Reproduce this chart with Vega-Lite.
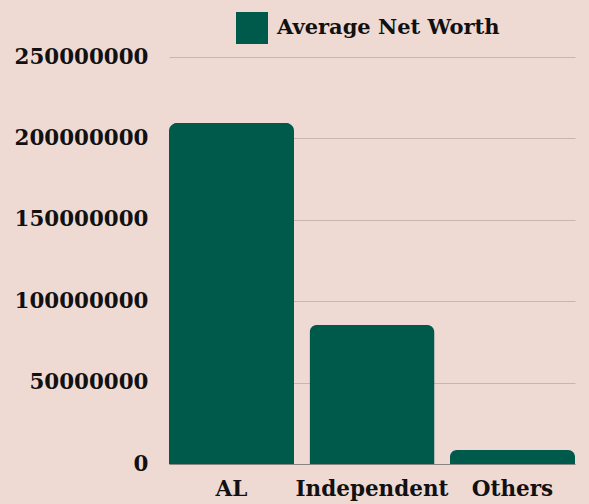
{
  "$schema": "https://vega.github.io/schema/vega-lite/v6.json",
  "width": 406,
  "height": 407,
  "autosize": "none",
  "padding": {"left": 169, "top": 57, "right": 14, "bottom": 40},
  "background": "#EFDAD3",
  "data": {"values": [
    {"party": "AL", "series": "Average Net Worth", "value": 209500000},
    {"party": "Independent", "series": "Average Net Worth", "value": 85500000},
    {"party": "Others", "series": "Average Net Worth", "value": 8600000}
  ]},
  "mark": {"type": "bar", "cornerRadiusTopLeft": 8, "cornerRadiusTopRight": 8},
  "encoding": {
    "x": {
      "field": "party", "type": "nominal", "sort": null,
      "scale": {"paddingInner": 0.11, "paddingOuter": 0},
      "axis": {"title": null, "labelAngle": 0, "ticks": false, "domainColor": "#8C8480", "labelPadding": 14, "labelFontSize": 21.5, "labelFont": "DejaVu Serif", "labelFontWeight": "bold", "labelColor": "#111111", "labelOverlap": false, "labelLimit": 300}
    },
    "y": {
      "field": "value", "type": "quantitative",
      "scale": {"domain": [0, 250000000]},
      "axis": {"title": null, "values": [0, 50000000, 100000000, 150000000, 200000000, 250000000], "format": "d", "ticks": false, "domain": false, "gridColor": "#C7B5AF", "labelPadding": 21, "labelFontSize": 21.4, "labelFont": "DejaVu Serif", "labelFontWeight": "bold", "labelColor": "#111111", "labelOverlap": false, "labelFlush": false, "labelBound": false, "labelLimit": 300}
    },
    "color": {
      "field": "series", "type": "nominal",
      "scale": {"range": ["#005A4B"]},
      "legend": {"title": null, "orient": "none", "legendX": 67, "legendY": -45, "symbolType": "square", "symbolSize": 1024, "symbolOpacity": 1, "symbolStrokeWidth": 0, "labelFontSize": 21, "labelFont": "DejaVu Serif", "labelFontWeight": "bold", "labelColor": "#111111", "labelOffset": 9, "labelLimit": 400}
    }
  },
  "config": {"view": {"stroke": null}}
}
